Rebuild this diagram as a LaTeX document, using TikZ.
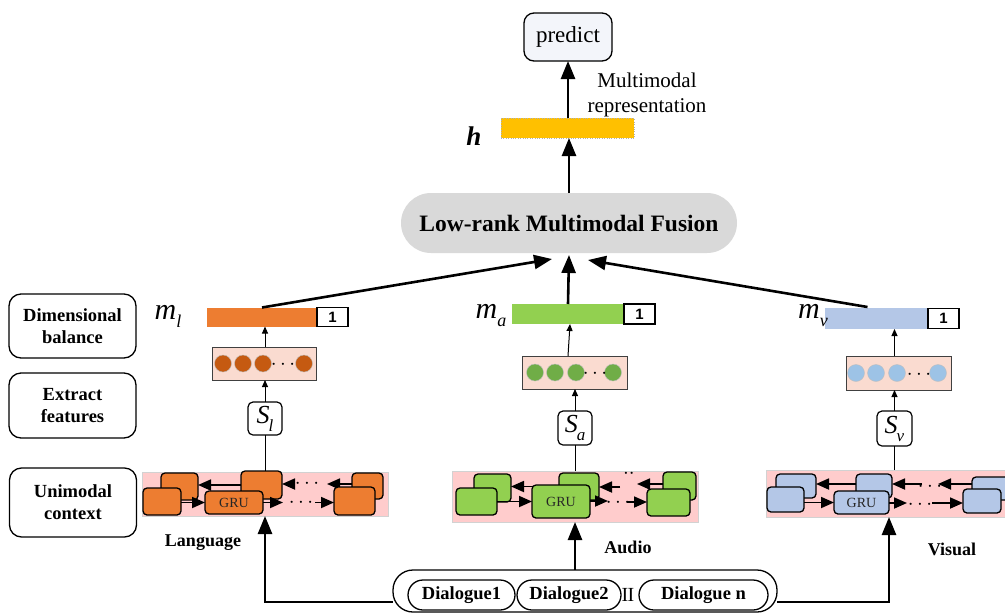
\documentclass[tikz,border=0pt]{standalone}
\usepackage{fontspec}
\setmainfont{Liberation Serif}
\newfontfamily\onefont{Liberation Sans}
\usetikzlibrary{arrows.meta}
\definecolor{cOrange}{HTML}{ED7D31}
\definecolor{cOrangeD}{HTML}{C55A11}
\definecolor{cGreen}{HTML}{92D050}
\definecolor{cGreenD}{HTML}{70AD47}
\definecolor{cBlue}{HTML}{B4C7E7}
\definecolor{cBlueD}{HTML}{9DC3E6}
\definecolor{cPink}{HTML}{FFCCCC}
\definecolor{cSalmon}{HTML}{FADBD0}
\definecolor{cGold}{HTML}{FFC000}
\definecolor{cFusion}{HTML}{D9D9D9}
\definecolor{cPred}{HTML}{F3F5FA}
\tikzset{
  every node/.style={inner sep=1pt, outer sep=0pt},
  sidebox/.style={draw, line width=1.3pt, rounded corners=12pt, minimum width=127pt, align=center, font=\fontsize{18.5}{22}\selectfont\bfseries},
  bar/.style={minimum height=19pt, inner sep=0pt},
  onebox/.style={draw, line width=1.2pt, fill=white, minimum width=31pt, minimum height=19pt, anchor=west, font=\fontsize{15}{15}\onefont\bfseries},
  circbox/.style={draw=black!75, line width=1pt, fill=cSalmon, minimum width=105pt, minimum height=33pt},
  dotc/.style={circle, draw=gray!50, line width=0.4pt, minimum size=17pt, inner sep=0pt},
  sbox/.style={draw, line width=1.2pt, rounded corners=5pt, minimum width=34pt, minimum height=34pt, font=\fontsize{26}{26}\selectfont\itshape},
  band/.style={fill=cPink, draw=gray!35, line width=0.5pt},
  gbox/.style={draw, line width=1.3pt, rounded corners=4pt},
  grutext/.style={font=\fontsize{14}{14}\selectfont, text=black!85},
  rowarrow/.style={line width=1.8pt, -{Triangle[length=13pt,width=11pt]}},
  smallarrow/.style={line width=1pt, -{Triangle[length=7pt,width=6pt]}},
  bigarrow/.style={line width=2.6pt, -{Triangle[length=18pt,width=14pt]}},
  pill/.style={draw, line width=1.3pt, rounded corners=15pt, minimum height=30pt, font=\fontsize{18.5}{18.5}\selectfont\bfseries},
  dotsnode/.style={font=\fontsize{20}{20}\selectfont, inner sep=0pt},
  modlabel/.style={font=\fontsize{18}{18}\selectfont\bfseries},
  mlabel/.style={font=\fontsize{30}{30}\selectfont\itshape},
}
\begin{document}
\begin{tikzpicture}[x=1pt,y=-1pt]
\useasboundingbox (0,0) rectangle (1005,614);
\clip (0,0) rectangle (1005,614);

% ---------- top part ----------
\node[draw, line width=1.3pt, rounded corners=10pt, fill=cPred, minimum width=88pt, minimum height=48pt,
      font=\fontsize{23}{23}\selectfont] (pred) at (568,37) {predict};
\node[draw=gray!60, dotted, fill=cGold, minimum width=133pt, minimum height=20pt] (hbar) at (567.5,128) {};
\node[font=\fontsize{27}{27}\selectfont\bfseries\itshape] (hlab) at (474,136) {h};
\node[align=center, font=\fontsize{21}{25}\selectfont] (mmr) at (647,95) {Multimodal\\representation};
\node[fill=cFusion, rounded corners=30pt, minimum width=336pt, minimum height=60pt,
      font=\fontsize{23.5}{23.5}\selectfont\bfseries] (fusion) at (569,223) {Low-rank Multimodal Fusion};

\draw[bigarrow] (hbar.north -| pred.south) -- (pred.south);
\draw[bigarrow] (fusion.north) -- (hbar.south -| fusion.north);

% ---------- side boxes ----------
\node[sidebox, minimum height=64pt] (sb1) at (72.5,326) {Dimensional\\balance};
\node[sidebox, minimum height=65pt] (sb2) at (72.5,405.5) {Extract\\features};
\node[sidebox, minimum height=69pt] (sb3) at (73,502.5) {Unimodal\\context};

% ---------- bars ----------
\node[bar, fill=cOrange, minimum width=110pt] (barL) at (262,317) {};
\node[onebox] (oneL) at (barL.east) {1};
\node[bar, fill=cGreen, minimum width=112pt, minimum height=20pt] (barA) at (568,314) {};
\node[onebox, minimum height=20pt] (oneA) at (barA.east) {1};
\node[bar, fill=cBlue, minimum width=103pt, minimum height=21pt] (barV) at (876.5,318.5) {};
\node[onebox, minimum height=20pt] (oneV) at (barV.east) {1};

\node[mlabel] (mL) at (168,316) {m\raisebox{-8pt}{\fontsize{18}{18}\selectfont l}};
\node[mlabel] (mA) at (491,316) {m\raisebox{-8pt}{\fontsize{18}{18}\selectfont a}};
\node[mlabel] (mV) at (813,316) {m\raisebox{-8pt}{\fontsize{18}{18}\selectfont v}};

\coordinate (fusL) at (552,259);
\coordinate (fusA) at (569,255);
\coordinate (fusV) at (588,260);
\draw[bigarrow] (barL.north) -- (fusL);
\draw[bigarrow] (barA.north) -- (fusA);
\draw[bigarrow] ([xshift=-9pt,yshift=1pt]barV.north) -- (fusV);

% ---------- feature boxes ----------
\node[circbox, minimum width=104pt] (cL) at (264,363.5) {};
\foreach \k/\dx in {1/11,2/31,3/51,4/92} \node[dotc, fill=cOrangeD] (cL\k) at (212+\dx,363.5) {};
\node[dotsnode] (cLd) at (283,365) {$\cdots$};
\node[circbox] (cA) at (574.5,372.5) {};
\foreach \k/\dx in {1/13,2/33,3/54,4/91} \node[dotc, fill=cGreenD] (cA\k) at (522+\dx,372.5) {};
\node[dotsnode] (cAd) at (595,374) {$\cdots$};
\node[circbox, minimum height=34pt] (cV) at (898.5,373) {};
\foreach \k/\dx in {1/10,2/30,3/51,4/92} \node[dotc, fill=cBlueD] (cV\k) at (846+\dx,373) {};
\node[dotsnode] (cVd) at (919,374.5) {$\cdots$};

\node[sbox, minimum height=33pt] (SL) at (265,418.5) {S\kern-1pt\raisebox{-8pt}{\fontsize{17}{17}\selectfont l}};
\node[sbox] (SA) at (575,428) {S\kern-1pt\raisebox{-8pt}{\fontsize{17}{17}\selectfont a}};
\node[sbox, minimum width=35pt, minimum height=35pt] (SV) at (894.5,428.5) {S\kern-1pt\raisebox{-8pt}{\fontsize{17}{17}\selectfont v}};

\draw[smallarrow] (SL.north) -- (SL.north |- cL.south);
\draw[smallarrow] (SL.north |- cL.north) -- (SL.north |- barL.south);
\draw[smallarrow] (SA.north) -- (SA.north |- cA.south);
\draw[smallarrow] (barA.south |- cA.north) -- ([xshift=2pt]barA.south);
\draw[smallarrow] (SV.north) -- (SV.north |- cV.south);
\draw[smallarrow] (SV.north |- cV.north) -- (SV.north |- barV.south);

% ---------- row 1: Language ----------
\node[band, minimum width=246pt, minimum height=44pt] (band1) at (265,494) {};
\node[gbox, fill=cOrange, minimum width=37pt, minimum height=27pt] (bl1) at (179.5,486.5) {};
\node[gbox, fill=cOrange, minimum width=41pt, minimum height=28pt] (bm1) at (261.5,485) {};
\node[gbox, fill=cOrange, minimum width=31pt, minimum height=26pt] (br1) at (367.5,486) {};
\draw[rowarrow] (bm1.west) -- (bm1.west -| bl1.east);
\coordinate (t1a) at (327,484);
\coordinate (t1b) at (293,484);
\node[dotsnode] (dt1) at (307,484) {$\cdots$};
\draw[rowarrow] (br1.west |- t1a) -- (t1a);
\draw[rowarrow] (t1b) -- (bm1.east |- t1b);
\node[gbox, fill=cOrange, minimum width=38pt, minimum height=27pt] (fl1) at (162,501.5) {};
\node[gbox, fill=cOrange, minimum width=58pt, minimum height=23pt, grutext] (gru1) at (234,502.5) {GRU};
\node[gbox, fill=cOrange, minimum width=41pt, minimum height=28pt] (fr1) at (354.5,501) {};
\draw[rowarrow] (fl1.east |- gru1.west) -- (gru1.west);
\coordinate (b1a) at (283,502.5);
\coordinate (b1b) at (315,502.5);
\node[dotsnode] (db1) at (301,503) {$\cdots$};
\draw[rowarrow] (gru1.east) -- (b1a);
\draw[rowarrow] (b1b) -- (fr1.west |- b1b);
\draw[line width=1pt] (bm1.north -| SL.south) -- (SL.south);

% ---------- row 2: Audio ----------
\node[band, minimum width=246pt, minimum height=51pt] (band2) at (575,496.5) {};
\node[gbox, fill=cGreen, minimum width=37pt, minimum height=28pt] (bl2) at (492.5,488) {};
\node[gbox, fill=cGreen, minimum width=40pt, minimum height=27pt] (bm2) at (579,486.5) {};
\node[gbox, fill=cGreen, minimum width=33pt, minimum height=28pt] (br2) at (679.5,486) {};
\draw[rowarrow] (bm2.west) -- (bm2.west -| bl2.east);
\coordinate (t2a) at (637,484);
\coordinate (t2b) at (620,487);
\node[dotsnode] (dt2) at (629,474) {$\cdot\cdot$};
\draw[rowarrow] (br2.west |- t2a) -- (t2a);
\draw[rowarrow] (t2b) -- (bm2.east |- t2b);
\node[gbox, fill=cGreen, minimum width=41pt, minimum height=27pt] (fl2) at (476.5,501.5) {};
\node[gbox, fill=cGreen, minimum width=58pt, minimum height=33pt, grutext] (gru2) at (561,501.5) {GRU};
\node[gbox, fill=cGreen, minimum width=43pt, minimum height=27pt] (fr2) at (668.5,502.5) {};
\draw[rowarrow] (fl2.east |- gru2.west) -- (gru2.west);
\coordinate (b2a) at (608,501);
\coordinate (b2b) at (627,502);
\node[dotsnode] (db2) at (618,503) {$\cdots$};
\draw[rowarrow] (gru2.east |- b2a) -- (b2a);
\draw[rowarrow] (b2b) -- (fr2.west |- b2b);
\draw[line width=1pt] (band2.north -| SA.south) -- (SA.south);

% ---------- row 3: Visual ----------
\node[band, minimum width=250pt, minimum height=47pt] (band3) at (891,493.5) {};
\node[gbox, fill=cBlue, minimum width=40pt, minimum height=24pt] (bl3) at (796,486) {};
\node[gbox, fill=cBlue, minimum width=36pt, minimum height=24pt] (bm3) at (874,486) {};
\node[gbox, fill=cBlue, minimum width=40pt, minimum height=23pt] (br3) at (992,488.5) {};
\draw[rowarrow] (bm3.west |- 0,484) -- (bl3.east |- 0,484);
\coordinate (t3a) at (938,484);
\coordinate (t3b) at (922,484);
\node[dotsnode] (dt3) at (930,487) {$\cdots$};
\draw[rowarrow] (br3.west |- t3a) -- (t3a);
\draw[rowarrow] (t3b) -- (bm3.east |- t3b);
\node[gbox, fill=cBlue, minimum width=37pt, minimum height=25pt] (fl3) at (785.5,499.5) {};
\node[gbox, fill=cBlue, minimum width=55pt, minimum height=23pt, grutext] (gru3) at (861.5,502.5) {GRU};
\node[gbox, fill=cBlue, minimum width=38pt, minimum height=24pt] (fr3) at (982,501) {};
\draw[rowarrow] (fl3.east |- gru3.west) -- (gru3.west);
\coordinate (b3a) at (907,503);
\coordinate (b3b) at (932,503);
\node[dotsnode] (db3) at (920,505) {$\cdots$};
\draw[rowarrow] (gru3.east |- b3a) -- (b3a);
\draw[rowarrow] (b3b) -- (fr3.west |- b3b);
\draw[line width=1pt] (band3.north -| SV.south) -- (SV.south);

% ---------- modality labels ----------
\node[modlabel] (lang) at (203,543) {Language};
\node[modlabel] (aud) at (628,547) {Audio};
\node[modlabel] (vis) at (952,549) {Visual};

% ---------- dialogues ----------
\node[draw, line width=1.3pt, rounded corners=20pt, minimum width=384pt, minimum height=42pt] (dlg) at (585,591) {};
\node[pill, minimum width=107pt] (d1) at (461.5,595) {Dialogue1};
\node[pill, minimum width=104pt] (d2) at (569,595) {Dialogue2};
\node[font=\fontsize{20}{20}\selectfont] (sep) at (628,595) {I\kern-0.6ptI};
\node[pill, minimum width=129pt] (dn) at (703.5,595) {Dialogue n};

\draw[bigarrow] ([yshift=-11pt]dlg.west) -| (band1.south -| SL.south);
\draw[bigarrow] (dlg.north -| SA.south) -- (band2.south -| SA.south);
\draw[bigarrow] ([yshift=-11pt]dlg.east) -| (band3.south -| gru3.east);
\end{tikzpicture}
\end{document}
